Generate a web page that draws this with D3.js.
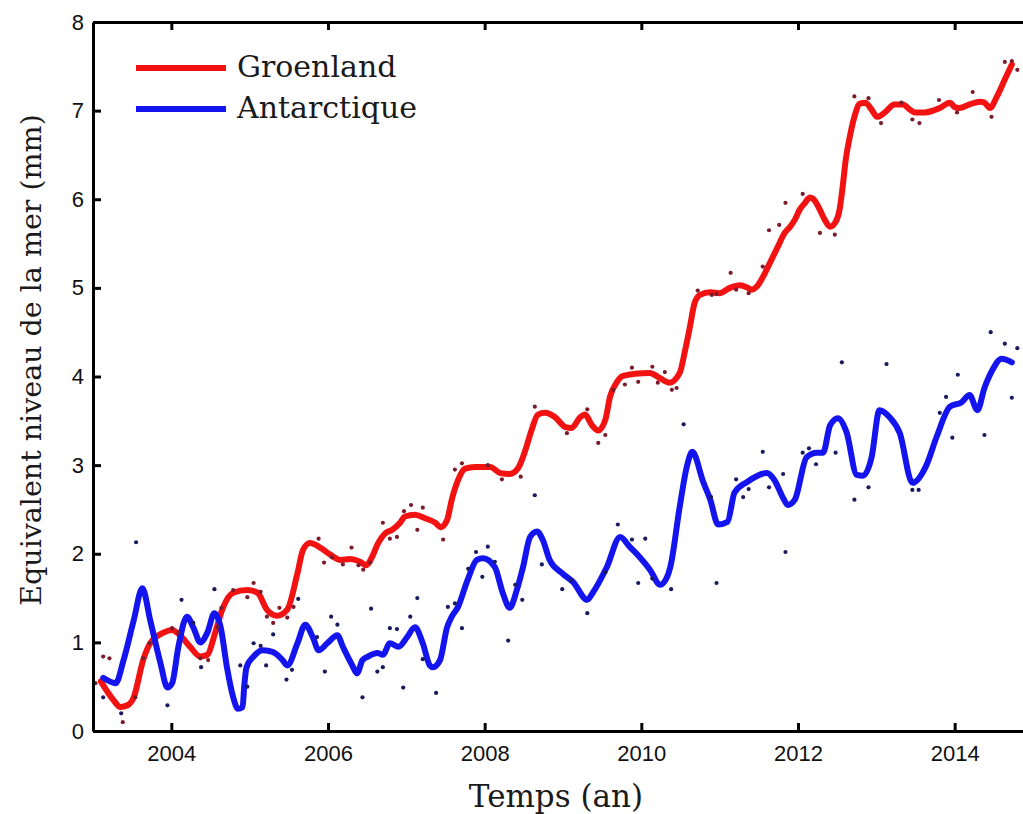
<!DOCTYPE html>
<html>
<head>
<meta charset="utf-8">
<script src="https://cdn.jsdelivr.net/npm/d3@7"></script>
<style>
  body { margin: 0; background: #fff; }
  #wrapper svg { display: block; }
  .axis path, .axis line { stroke: #000; stroke-width: 3px; }
  .axis text { font-family: "Liberation Sans", Arial, sans-serif; font-size: 22px; fill: #111; }
  .serif { font-family: "DejaVu Serif", serif; fill: #1a1a1a; }
</style>
</head>
<body>
<div id="wrapper"></div>
<script>

// values: [year, mm]
const greenlandLine = [
  [2003.10,0.56],[2003.26,0.35],[2003.35,0.27],[2003.44,0.29],[2003.52,0.38],[2003.64,0.80],[2003.73,0.99],
  [2003.90,1.11],[2004.01,1.14],[2004.11,1.08],[2004.24,0.95],[2004.37,0.84],[2004.46,0.86],[2004.56,1.11],
  [2004.65,1.37],[2004.79,1.56],[2004.97,1.59],[2005.10,1.56],[2005.22,1.37],[2005.35,1.30],[2005.48,1.37],
  [2005.61,1.78],[2005.68,2.04],[2005.77,2.12],[2005.90,2.07],[2006.03,1.99],[2006.16,1.93],[2006.28,1.94],
  [2006.41,1.91],[2006.49,1.87],[2006.56,1.96],[2006.64,2.12],[2006.73,2.23],[2006.82,2.27],[2006.92,2.35],
  [2006.98,2.42],[2007.11,2.44],[2007.24,2.40],[2007.37,2.35],[2007.44,2.30],[2007.52,2.38],[2007.58,2.61],
  [2007.66,2.83],[2007.75,2.96],[2007.88,2.98],[2008.07,2.98],[2008.20,2.91],[2008.32,2.90],[2008.43,2.97],
  [2008.52,3.17],[2008.60,3.40],[2008.68,3.57],[2008.77,3.59],[2008.90,3.54],[2009.03,3.43],[2009.11,3.42],
  [2009.22,3.54],[2009.28,3.57],[2009.37,3.45],[2009.45,3.39],[2009.54,3.51],[2009.60,3.77],[2009.69,3.94],
  [2009.75,4.00],[2009.92,4.03],[2010.11,4.04],[2010.24,3.98],[2010.36,3.93],[2010.49,4.04],[2010.56,4.30],
  [2010.62,4.56],[2010.68,4.83],[2010.75,4.92],[2010.88,4.95],[2011.00,4.94],[2011.13,5.00],[2011.26,5.03],
  [2011.36,5.00],[2011.41,4.98],[2011.47,5.01],[2011.55,5.12],[2011.64,5.28],[2011.74,5.46],[2011.83,5.62],
  [2011.90,5.69],[2011.96,5.77],[2012.02,5.88],[2012.09,5.96],[2012.15,6.02],[2012.21,5.99],[2012.28,5.88],
  [2012.34,5.77],[2012.41,5.69],[2012.47,5.73],[2012.53,5.88],[2012.57,6.14],[2012.61,6.45],[2012.66,6.70],
  [2012.72,6.93],[2012.79,7.08],[2012.86,7.09],[2012.94,7.01],[2013.01,6.93],[2013.11,6.98],[2013.23,7.07],
  [2013.34,7.07],[2013.43,7.01],[2013.49,6.98],[2013.62,6.98],[2013.81,7.03],[2013.94,7.09],[2014.00,7.04],
  [2014.06,7.03],[2014.19,7.07],[2014.32,7.10],[2014.38,7.09],[2014.45,7.03],[2014.54,7.16],[2014.64,7.35],
  [2014.73,7.52],
]

const greenlandPoints = [
  [2003.03,0.54],[2003.13,0.84],[2003.21,0.82],[2003.38,0.10],[2003.54,0.38],[2003.64,0.82],[2003.72,0.99],
  [2004.01,1.16],[2004.09,1.11],[2004.37,0.82],[2004.47,0.80],[2004.59,1.17],[2004.64,1.39],[2004.79,1.59],
  [2004.97,1.51],[2005.05,1.67],[2005.14,1.57],[2005.22,1.29],[2005.30,1.22],[2005.38,1.39],[2005.48,1.28],
  [2005.56,1.40],[2005.88,2.17],[2005.95,1.90],[2006.05,1.96],[2006.19,1.88],[2006.30,2.07],[2006.39,1.87],
  [2006.45,1.82],[2006.54,1.90],[2006.70,2.35],[2006.79,2.17],[2006.88,2.19],[2006.97,2.48],[2007.06,2.55],
  [2007.14,2.27],[2007.21,2.52],[2007.47,2.16],[2007.62,2.95],[2007.71,3.02],[2008.04,3.00],[2008.22,2.84],
  [2008.46,2.87],[2008.64,3.66],[2009.05,3.36],[2009.31,3.63],[2009.45,3.25],[2009.54,3.34],[2009.64,3.85],
  [2009.79,3.91],[2009.88,4.10],[2009.96,3.94],[2010.14,4.11],[2010.21,3.93],[2010.30,4.05],[2010.39,3.85],
  [2010.45,3.87],[2010.72,4.97],[2010.90,4.92],[2010.96,4.93],[2011.14,5.17],[2011.21,4.98],[2011.37,4.94],
  [2011.55,5.24],[2011.63,5.65],[2011.76,5.71],[2011.84,5.96],[2012.06,6.06],[2012.28,5.62],[2012.47,5.60],
  [2012.72,7.16],[2012.90,7.14],[2013.06,6.86],[2013.32,7.09],[2013.46,6.90],[2013.55,6.86],[2013.80,7.12],
  [2014.03,6.98],[2014.23,7.21],[2014.47,6.93],[2014.64,7.55],[2014.73,7.56],[2014.80,7.46],
]

const antarcticLine = [
  [2003.13,0.60],[2003.29,0.54],[2003.39,0.80],[2003.52,1.25],[2003.63,1.61],[2003.73,1.25],[2003.86,0.77],
  [2003.95,0.49],[2004.01,0.54],[2004.09,0.95],[2004.20,1.29],[2004.28,1.17],[2004.37,1.00],[2004.46,1.11],
  [2004.55,1.33],[2004.63,1.17],[2004.71,0.72],[2004.79,0.38],[2004.85,0.25],[2004.91,0.27],[2004.93,0.50],
  [2004.96,0.72],[2005.05,0.84],[2005.17,0.91],[2005.30,0.89],[2005.42,0.80],[2005.48,0.74],[2005.61,0.99],
  [2005.71,1.20],[2005.81,1.05],[2005.88,0.91],[2005.99,0.99],[2006.12,1.08],[2006.19,0.95],[2006.31,0.74],
  [2006.37,0.65],[2006.44,0.80],[2006.51,0.84],[2006.63,0.88],[2006.70,0.86],[2006.79,0.99],[2006.90,0.95],
  [2007.01,1.06],[2007.11,1.17],[2007.21,0.99],[2007.30,0.74],[2007.34,0.72],[2007.43,0.80],[2007.52,1.17],
  [2007.58,1.29],[2007.66,1.40],[2007.78,1.70],[2007.90,1.93],[2007.98,1.95],[2008.13,1.85],[2008.23,1.56],
  [2008.32,1.39],[2008.41,1.59],[2008.49,1.85],[2008.58,2.19],[2008.67,2.25],[2008.74,2.16],[2008.83,1.93],
  [2008.99,1.78],[2009.13,1.68],[2009.31,1.48],[2009.38,1.56],[2009.56,1.85],[2009.73,2.19],[2009.85,2.08],
  [2009.98,1.96],[2010.11,1.82],[2010.24,1.65],[2010.33,1.74],[2010.37,1.85],[2010.49,2.53],[2010.58,2.98],
  [2010.65,3.15],[2010.79,2.81],[2010.88,2.61],[2010.98,2.33],[2011.10,2.36],[2011.19,2.69],[2011.35,2.81],
  [2011.60,2.91],[2011.70,2.83],[2011.81,2.63],[2011.87,2.55],[2011.96,2.61],[2012.11,3.09],[2012.24,3.14],
  [2012.32,3.14],[2012.41,3.45],[2012.51,3.53],[2012.62,3.37],[2012.75,2.89],[2012.83,2.88],[2012.94,3.09],
  [2013.04,3.62],[2013.17,3.54],[2013.30,3.36],[2013.46,2.80],[2013.64,3.00],[2013.77,3.32],[2013.94,3.66],
  [2014.09,3.71],[2014.19,3.79],[2014.29,3.62],[2014.38,3.87],[2014.48,4.07],[2014.60,4.20],[2014.73,4.16],
]

const antarcticPoints = [
  [2003.13,0.38],[2003.36,0.20],[2003.55,2.13],[2003.95,0.29],[2004.13,1.48],[2004.28,1.22],[2004.38,0.72],
  [2004.55,1.60],[2004.88,0.74],[2004.97,0.50],[2005.05,0.99],[2005.14,0.96],[2005.21,0.74],[2005.30,1.09],
  [2005.47,0.58],[2005.54,0.69],[2005.62,1.49],[2005.86,1.06],[2005.96,0.67],[2006.04,1.29],[2006.12,1.20],
  [2006.44,0.38],[2006.55,1.38],[2006.63,0.67],[2006.70,0.72],[2006.79,1.16],[2006.88,1.15],[2006.96,0.49],
  [2007.05,1.29],[2007.14,1.50],[2007.21,0.81],[2007.38,0.43],[2007.53,1.40],[2007.62,1.44],[2007.71,1.16],
  [2007.79,1.83],[2007.89,2.02],[2007.97,1.74],[2008.04,2.08],[2008.13,1.91],[2008.30,1.02],[2008.39,1.65],
  [2008.48,1.48],[2008.64,2.66],[2008.73,1.88],[2008.99,1.60],[2009.10,1.70],[2009.31,1.33],[2009.54,1.79],
  [2009.70,2.33],[2009.88,2.16],[2009.96,1.67],[2010.05,2.17],[2010.14,1.72],[2010.38,1.60],[2010.54,3.46],
  [2010.89,2.64],[2010.96,1.67],[2011.21,2.84],[2011.30,2.64],[2011.37,2.73],[2011.55,3.15],[2011.63,2.75],
  [2011.81,2.90],[2011.84,2.02],[2012.06,3.14],[2012.14,3.19],[2012.23,3.01],[2012.48,3.14],[2012.56,4.16],
  [2012.72,2.61],[2012.90,2.75],[2013.13,4.14],[2013.46,2.72],[2013.54,2.72],[2013.81,3.59],[2013.89,3.77],
  [2013.97,3.31],[2014.04,4.02],[2014.38,3.34],[2014.46,4.50],[2014.64,4.37],[2014.73,3.76],[2014.80,4.32],
]

const seriesNames = ["Groenland", "Antarctique"]
const yearTicks = [2004, 2006, 2008, 2010, 2012, 2014]
const mmTicks = [0, 1, 2, 3, 4, 5, 6, 7, 8]

function drawChart() {

  // 1. Accessors

  const xAccessor = d => d[0]
  const yAccessor = d => d[1]

  // 2. Chart dimensions

  let dimensions = {
    width: 1023,
    height: 814,
    margin: {
      top: 22,
      right: -10,
      bottom: 83,
      left: 93,
    },
  }
  dimensions.boundedWidth = dimensions.width - dimensions.margin.left - dimensions.margin.right
  dimensions.boundedHeight = dimensions.height - dimensions.margin.top - dimensions.margin.bottom

  // 3. Canvas

  const wrapper = d3.select("#wrapper")
    .append("svg")
      .attr("width", dimensions.width)
      .attr("height", dimensions.height)

  const bounds = wrapper.append("g")
      .attr("transform", `translate(${dimensions.margin.left}, ${dimensions.margin.top})`)

  // 4. Scales

  const xScale = d3.scaleLinear()
    .domain([2003, 2015])
    .range([0, dimensions.boundedWidth])

  const yScale = d3.scaleLinear()
    .domain([0, 8])
    .range([dimensions.boundedHeight, 0])

  // 5. Data

  const lineGenerator = d3.line()
    .x(d => xScale(xAccessor(d)))
    .y(d => yScale(yAccessor(d)))
    .curve(d3.curveMonotoneX)

  const series = [
    { line: greenlandLine, points: greenlandPoints, color: "#f21212", dot: "#7a1c2c" },
    { line: antarcticLine, points: antarcticPoints, color: "#1414ee", dot: "#1a1a5e" },
  ]

  series.forEach(s => {
    bounds.append("path")
      .datum(s.line)
      .attr("d", lineGenerator)
      .attr("fill", "none")
      .attr("stroke", s.color)
      .attr("stroke-width", 6)
      .attr("stroke-linejoin", "round")
      .attr("stroke-linecap", "round")
  })

  series.forEach(s => {
    bounds.append("g")
      .selectAll("circle")
      .data(s.points)
      .join("circle")
        .attr("cx", d => xScale(xAccessor(d)))
        .attr("cy", d => yScale(yAccessor(d)))
        .attr("r", 2.1)
        .attr("fill", s.dot)
  })

  // 6. Peripherals

  const xAxis = bounds.append("g")
      .attr("class", "axis")
      .attr("transform", `translate(0, ${dimensions.boundedHeight})`)
      .call(d3.axisBottom(xScale).tickValues(yearTicks).tickFormat(d3.format("d"))
        .tickSize(-8).tickSizeOuter(0).tickPadding(14))

  const xAxisTop = bounds.append("g")
      .attr("class", "axis")
      .call(d3.axisTop(xScale).tickValues(yearTicks).tickFormat("")
        .tickSize(-8).tickSizeOuter(0))

  const yAxis = bounds.append("g")
      .attr("class", "axis")
      .call(d3.axisLeft(yScale).tickValues(mmTicks).tickFormat(d3.format("d"))
        .tickSize(-8).tickSizeOuter(0).tickPadding(9))

  wrapper.append("text")
      .attr("class", "serif")
      .attr("x", 556)
      .attr("y", 807)
      .attr("text-anchor", "middle")
      .style("font-size", "31px")
      .text("Temps (an)")

  wrapper.append("text")
      .attr("class", "serif")
      .attr("transform", "translate(41, 360) rotate(-90)")
      .attr("text-anchor", "middle")
      .style("font-size", "28.5px")
      .text("Equivalent niveau de la mer (mm)")

  // legend
  const legend = wrapper.append("g")
  series.forEach((s, i) => {
    const y = 68 + i * 41
    legend.append("line")
      .attr("x1", 136).attr("x2", 226)
      .attr("y1", y).attr("y2", y)
      .attr("stroke", s.color)
      .attr("stroke-width", 6)
    legend.append("text")
      .attr("class", "serif")
      .attr("x", 237)
      .attr("y", y + 9)
      .style("font-size", "30px")
      .text(seriesNames[i])
  })
}
drawChart()
</script>
</body>
</html>
